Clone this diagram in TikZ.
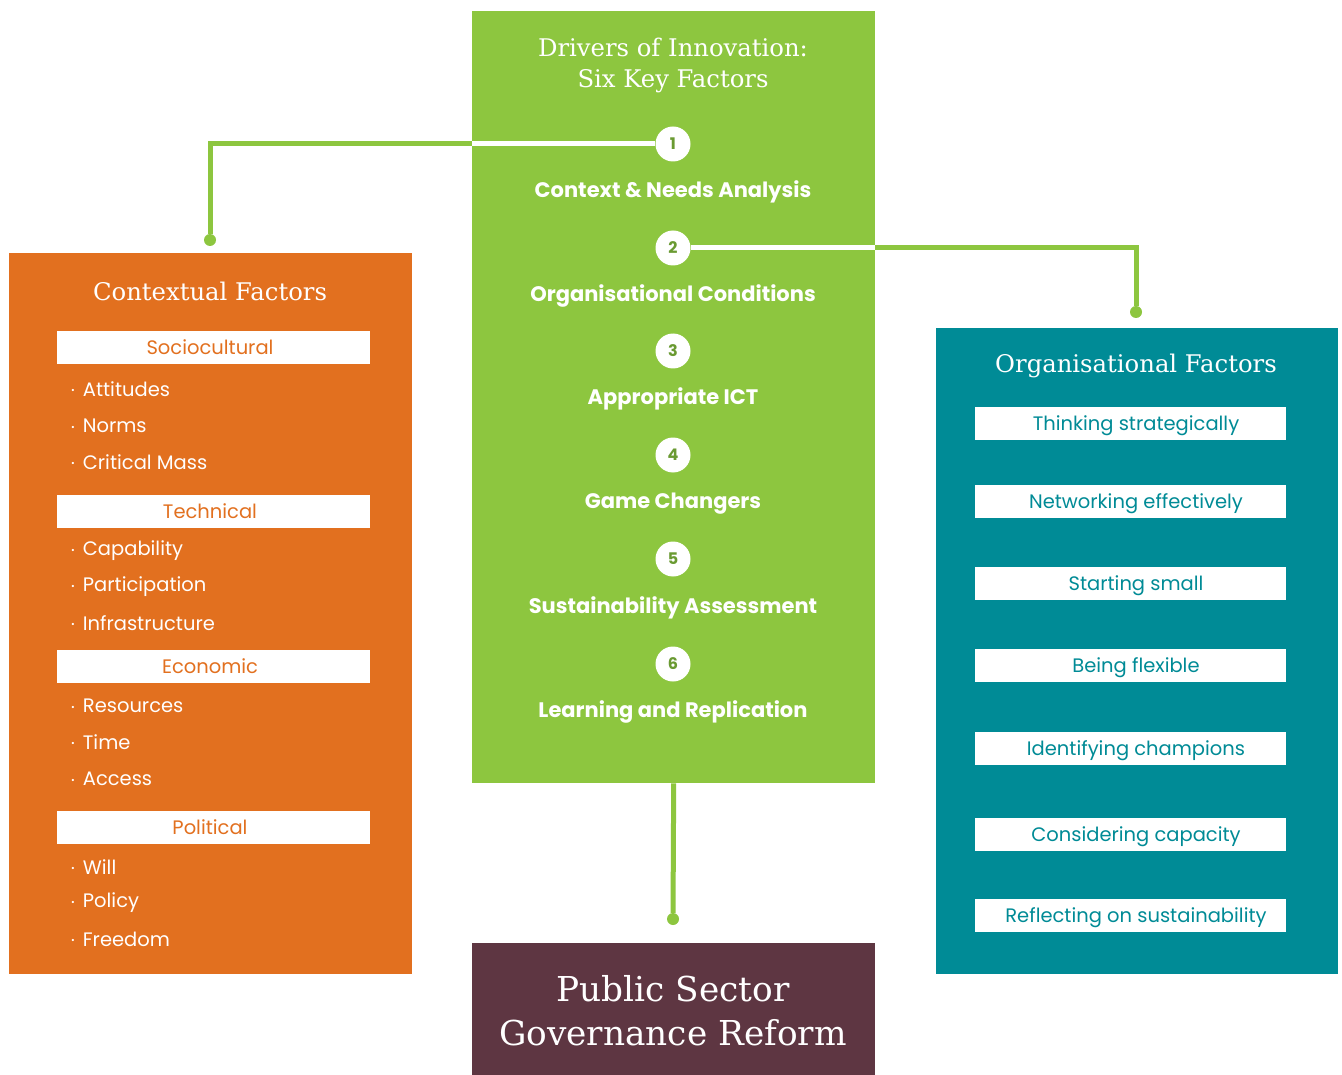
\documentclass[tikz,border=0pt]{standalone}
\usepackage{fontspec}
\setmainfont{Poppins}
\newfontfamily\slabfont{DejaVu Serif}
\usetikzlibrary{positioning}
\definecolor{drivgreen}{HTML}{8DC63F}
\definecolor{numgreen}{HTML}{6A9A32}
\definecolor{ctxorange}{HTML}{E2701F}
\definecolor{orgteal}{HTML}{008B96}
\definecolor{reformplum}{HTML}{5E3642}
\tikzstyle{lien} = [drivgreen, line width=5pt]
\tikzstyle{bout} = [circle, fill=drivgreen, inner sep=0pt, minimum size=12pt]
\tikzstyle{num} = [circle, fill=white, text=numgreen, font=\bfseries\fontsize{16}{16}\selectfont, minimum size=35pt, inner sep=0pt]
\tikzstyle{etape} = [text=white, font=\bfseries\fontsize{21}{21}\selectfont]
\tikzstyle{titre} = [text=white, font=\slabfont\fontsize{24.3}{31}\selectfont, align=center]
\tikzstyle{barre} = [fill=white, minimum width=313pt, minimum height=33pt, inner sep=0pt, text height=16pt, text depth=2pt, font=\fontsize{19.5}{19.5}\selectfont]
\tikzstyle{barrectx} = [barre, text=ctxorange, execute at begin node=\hspace*{-6pt}]
\tikzstyle{barreorg} = [barre, text=orgteal, minimum width=311pt, execute at begin node=\hspace*{12pt}]
\tikzstyle{puce} = [text=white, anchor=west, inner sep=0pt, font=\fontsize{19.5}{19.5}\selectfont]
\newcommand{\dotpuce}{\raisebox{.25ex}{\fontsize{9}{9}\selectfont\textbullet}\hspace{8pt}}

\begin{document}
\begin{tikzpicture}[x=1pt, y=-1pt]
	\useasboundingbox[fill=white] (0,0) rectangle (1342,1075);

%% Les trois colonnes et la boite du bas
	\node[fill=drivgreen, anchor=north west, minimum width=403pt, minimum height=772pt, inner sep=0pt] (drivers) at (472,11) {};
	\node[fill=ctxorange, anchor=north west, minimum width=403pt, minimum height=721pt, inner sep=0pt] (ctx) at (9,253) {};
	\node[fill=orgteal, anchor=north west, minimum width=402pt, minimum height=646pt, inner sep=0pt] (org) at (936,328) {};
	\node[fill=reformplum, anchor=north west, minimum width=403pt, minimum height=132pt, inner sep=0pt] (reform) at (472,943) {};

%% Titres
	\node[titre] (t_drivers) at (673,65) {Drivers of Innovation:\\Six Key Factors};
	\node[titre] (t_ctx) at (210,291) {Contextual Factors};
	\node[titre] (t_org) at (1136,366) {Organisational Factors};
	\node[titre, font=\slabfont\fontsize{34.3}{44}\selectfont] (t_reform) at (673,1011) {Public Sector\\Governance Reform};

%% Les six etapes
	\node[num] (n1) at (673,144) {1};
	\node[etape] (e1) at (673,192) {Context \& Needs Analysis};
	\node[num] (n2) at (673,248) {2};
	\node[etape] (e2) at (673,296) {Organisational Conditions};
	\node[num] (n3) at (673,351) {3};
	\node[etape] (e3) at (673,399) {Appropriate ICT};
	\node[num] (n4) at (673,455) {4};
	\node[etape] (e4) at (673,504) {Game Changers};
	\node[num] (n5) at (673,559) {5};
	\node[etape] (e5) at (673,608) {Sustainability Assessment};
	\node[num] (n6) at (673,664) {6};
	\node[etape] (e6) at (673,712) {Learning and Replication};

%% Liens
	\node[bout] (d_ctx) at (210,240) {};
	\node[bout] (d_org) at (1136,312) {};
	\node[bout] (d_reform) at (673,919) {};

	\draw[lien] (n1) -| (d_ctx);
	\draw[lien, white] (n1) -- (drivers.west |- n1);
	\draw[lien] (n2) -| (d_org);
	\draw[lien, white] (n2) -- (drivers.east |- n2);
	\draw[lien] (drivers.south) -- (d_reform);

%% Contextual factors
	\node[barrectx] (socio) at (213,348) {Sociocultural};
	\node[puce] (p1) at (71,389) {\dotpuce Attitudes};
	\node[puce] (p2) at (71,426) {\dotpuce Norms};
	\node[puce] (p3) at (71,462) {\dotpuce Critical Mass};

	\node[barrectx] (tech) at (213,511) {Technical};
	\node[puce] (p4) at (71,551) {\dotpuce Capability};
	\node[puce] (p5) at (71,587) {\dotpuce Participation};
	\node[puce] (p6) at (71,623) {\dotpuce Infrastructure};

	\node[barrectx] (eco) at (213,666) {Economic};
	\node[puce] (p7) at (71,706) {\dotpuce Resources};
	\node[puce] (p8) at (71,742) {\dotpuce Time};
	\node[puce] (p9) at (71,779) {\dotpuce Access};

	\node[barrectx] (poli) at (213,827) {Political};
	\node[puce] (p10) at (71,867) {\dotpuce Will};
	\node[puce] (p11) at (71,903) {\dotpuce Policy};
	\node[puce] (p12) at (71,939) {\dotpuce Freedom};

%% Organisational factors
	\node[barreorg] (o1) at (1130,423) {Thinking strategically};
	\node[barreorg] (o2) at (1130,501) {Networking effectively};
	\node[barreorg] (o3) at (1130,583) {Starting small};
	\node[barreorg] (o4) at (1130,665) {Being flexible};
	\node[barreorg] (o5) at (1130,748) {Identifying champions};
	\node[barreorg] (o6) at (1130,834) {Considering capacity};
	\node[barreorg] (o7) at (1130,915) {Reflecting on sustainability};

\end{tikzpicture}
\end{document}
